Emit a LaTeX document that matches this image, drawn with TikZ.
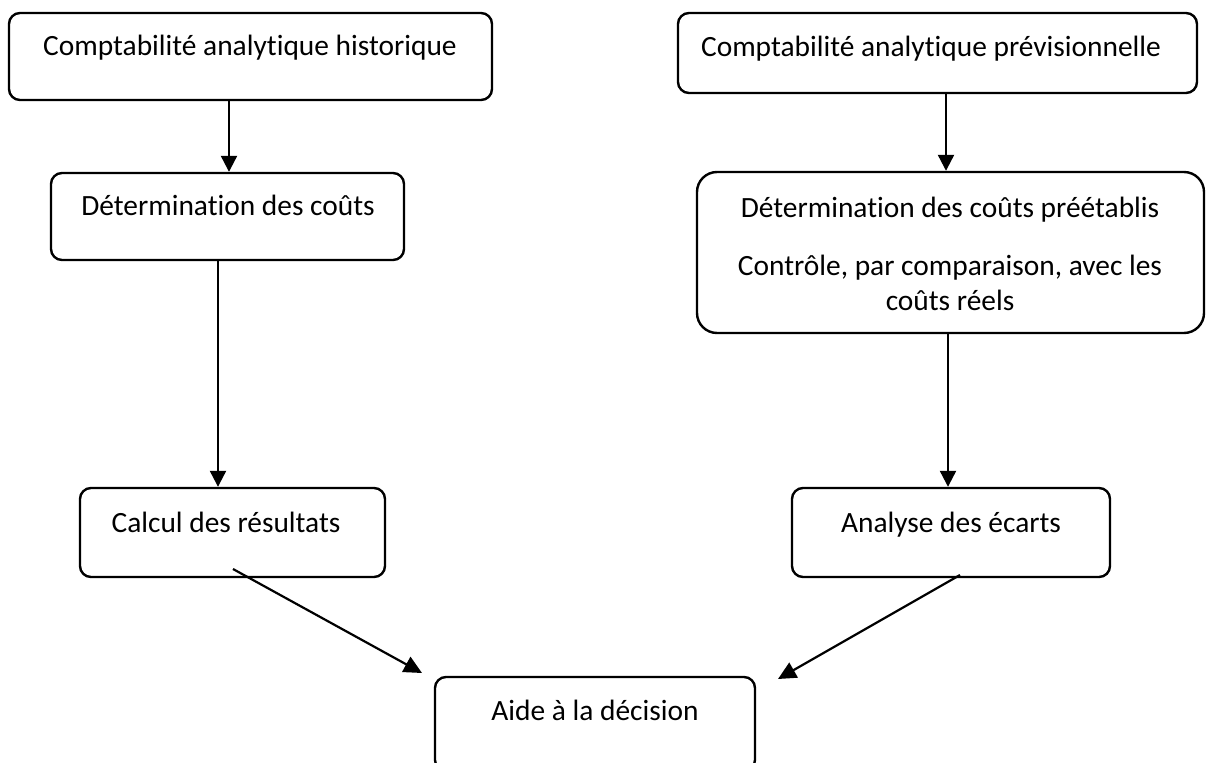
\documentclass[tikz,border=0pt]{standalone}
\usepackage{fontspec}
\setmainfont{Carlito}[Ligatures=NoCommon]
\usetikzlibrary{arrows.meta}
\begin{document}
\begin{tikzpicture}[x=1pt,y=-1pt,
  box/.style={draw=black, line width=2.4pt, rounded corners=11pt, inner sep=0pt},
  txt/.style={anchor=base, inner sep=0pt, font=\fontsize{29.4}{36}\selectfont},
  arr/.style={line width=2.2pt, -{Triangle[length=16pt,width=16pt]}},
  link/.style={line width=2.2pt, -{Triangle[length=18pt,width=17pt]}}]
\useasboundingbox (0,0) rectangle (1213,763);
\clip (0,0) rectangle (1213,763);

% boxes
\node[box, minimum width=483pt, minimum height=87pt] (b1) at (250.5,56.5) {};
\node[box, minimum width=519pt, minimum height=80pt] (b2) at (937.5,53) {};
\node[box, minimum width=353pt, minimum height=87pt] (b3) at (227.5,216.5) {};
\node[box, minimum width=507pt, minimum height=161pt, rounded corners=20pt] (b4) at (950.5,252.5) {};
\node[box, minimum width=305pt, minimum height=89pt] (b5) at (232.5,532.5) {};
\node[box, minimum width=318pt, minimum height=89pt] (b6) at (951,532.5) {};
\node[box, minimum width=320pt, minimum height=94pt] (b7) at (595,724) {};

% labels
\node[txt] (t1) at (250,55) {Comptabilité analytique historique};
\node[txt] (t2) at (931,56) {Comptabilité analytique prévisionnelle};
\node[txt] (t3) at (228,215) {Détermination des coûts};
\node[txt] (t4a) at (950,217) {Détermination des coûts préétablis};
\node[txt] (t4b) at (950,275) {Contrôle, par comparaison, avec les};
\node[txt] (t4c) at (950,310) {coûts réels};
\node[txt] (t5) at (226,532) {Calcul des résultats};
\node[txt] (t6) at (951,532) {Analyse des écarts};
\node[txt] (t7) at (595,720) {Aide à la décision};

% vertical links
\draw[arr] (b1.south -| 229,0) -- (b3.north -| 229,0);
\draw[arr] (b2.south -| 946,0) -- (b4.north -| 946,0);
\draw[arr] (b3.south -| 218,0) -- (b5.north -| 218,0);
\draw[arr] (b4.south -| 948,0) -- (b6.north -| 948,0);

% links towards the decision box
\coordinate (s5) at (233,569);
\coordinate (e5) at (422,673);
\coordinate (s6) at (960,575);
\coordinate (e6) at (778,679);
\draw[link] (s5) -- (e5);
\draw[link] (s6) -- (e6);
\end{tikzpicture}
\end{document}
